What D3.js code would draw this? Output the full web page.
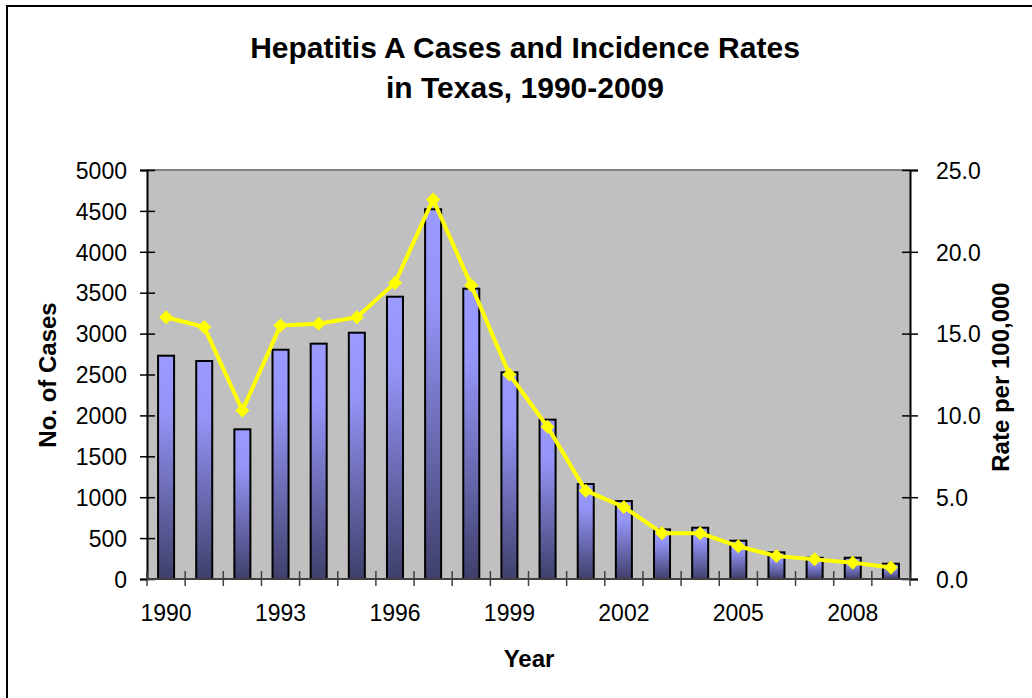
<!DOCTYPE html>
<html><head><meta charset="utf-8">
<script src="https://cdn.jsdelivr.net/npm/d3@7"></script>
<style>body{margin:0;background:#fff}svg{display:block}text{font-family:"Liberation Sans",Arial,sans-serif;fill:#000}</style>
</head><body>
<script>
const years = ["1990","1991","1992","1993","1994","1995","1996","1997","1998","1999","2000","2001","2002","2003","2004","2005","2006","2007","2008","2009"];
const cases = [2730,2665,1830,2803,2877,3011,3451,4520,3549,2527,1948,1161,953,607,627,468,326,260,260,187];
const rates = [16.0,15.4,10.3,15.5,15.6,16.0,18.1,23.2,17.95,12.5,9.3,5.4,4.4,2.8,2.8,2.0,1.4,1.2,1.0,0.7];
const leftTicks = [0,500,1000,1500,2000,2500,3000,3500,4000,4500,5000];
const rightTicks = [0,5,10,15,20,25];
const labelYears = ["1990","1993","1996","1999","2002","2005","2008"];
const titleLines = ["Hepatitis A Cases and Incidence Rates","in Texas, 1990-2009"];

const W=1032,H=698;
const L=147,R=910,T=170,B=579;
const svg=d3.select("body").append("svg").attr("width",W).attr("height",H);
const defs=svg.append("defs");
const g=defs.append("linearGradient").attr("id","barGrad").attr("x1",0).attr("y1",0).attr("x2",0).attr("y2",1);
g.append("stop").attr("offset","0%").attr("stop-color","#9a9aff");
g.append("stop").attr("offset","25%").attr("stop-color","#9595f8");
g.append("stop").attr("offset","100%").attr("stop-color","#3f3f6b");

// outer border
svg.append("rect").attr("x",7).attr("y",6).attr("width",W).attr("height",H).attr("fill","none").attr("stroke","#000").attr("stroke-width",2);

const x=d3.scaleBand().domain(years).range([L,R]);
const yL=d3.scaleLinear().domain([0,5000]).range([B,T]);
const yR=d3.scaleLinear().domain([0,25]).range([B,T]);

svg.append("rect").attr("x",L).attr("y",T).attr("width",R-L).attr("height",B-T).attr("fill","#c0c0c0");
svg.append("line").attr("x1",L).attr("x2",R).attr("y1",T).attr("y2",T).attr("stroke","#808080").attr("stroke-width",2);

// bars
const bw=x.bandwidth()*0.42;
svg.append("g").selectAll("rect").data(years).join("rect")
  .attr("x",d=>x(d)+x.bandwidth()/2-bw/2)
  .attr("y",(d,i)=>yL(cases[i]))
  .attr("width",bw)
  .attr("height",(d,i)=>B-yL(cases[i]))
  .attr("fill","url(#barGrad)").attr("stroke","#000").attr("stroke-width",2);

// left axis
const axL=svg.append("g").attr("transform",`translate(${L},0)`)
  .call(d3.axisLeft(yL).tickValues(leftTicks).tickSize(7).tickPadding(13).tickFormat(d3.format("d")));
axL.select(".domain").attr("stroke","#000").attr("stroke-width",2);
axL.selectAll(".tick line").attr("x2",-7).attr("x1",8).attr("stroke","#000").attr("stroke-width",1.5);
axL.selectAll(".tick text").attr("font-size",23).attr("font-family","Liberation Sans, Arial, sans-serif").attr("dy","0.36em");

// right axis
const axR=svg.append("g").attr("transform",`translate(${R},0)`)
  .call(d3.axisRight(yR).tickValues(rightTicks).tickSize(8).tickPadding(18).tickFormat(d3.format(".1f")));
axR.select(".domain").attr("stroke","#000").attr("stroke-width",2);
axR.selectAll(".tick line").attr("x1",-8).attr("x2",8).attr("stroke","#000").attr("stroke-width",1.5);
axR.selectAll(".tick text").attr("font-size",23).attr("font-family","Liberation Sans, Arial, sans-serif").attr("dy","0.36em");

// x axis
const axX=svg.append("g").attr("transform",`translate(0,${B})`)
  .call(d3.axisBottom(x).tickValues(labelYears).tickSize(0).tickPadding(26));
axX.select(".domain").remove();
axX.selectAll(".tick text").attr("font-size",23).attr("font-family","Liberation Sans, Arial, sans-serif");
svg.append("line").attr("x1",L).attr("x2",R).attr("y1",B).attr("y2",B).attr("stroke","#404040").attr("stroke-width",2);
const bounds=years.map(d=>x(d)).concat([R]);
svg.append("g").selectAll("line").data(bounds).join("line")
  .attr("x1",d=>d).attr("x2",d=>d).attr("y1",B-8).attr("y2",B+7)
  .attr("stroke","#404040").attr("stroke-width",1.5);

// rate line
const line=d3.line().x((d,i)=>x(years[i])+x.bandwidth()/2).y(d=>yR(d));
svg.append("path").datum(rates).attr("d",line).attr("fill","none").attr("stroke","#ffff00").attr("stroke-width",4).attr("stroke-linejoin","round");
const s=7;
svg.append("g").selectAll("path").data(rates).join("path")
  .attr("transform",(d,i)=>`translate(${x(years[i])+x.bandwidth()/2},${yR(d)})`)
  .attr("d",`M0,${-s}L${s},0L0,${s}L${-s},0Z`).attr("fill","#ffff00");

// titles
svg.append("text").attr("x",525).attr("text-anchor","middle").attr("font-weight","bold").attr("font-size",30)
  .selectAll("tspan").data(titleLines).join("tspan").attr("x",525).attr("y",(d,i)=>58+i*40).text(d=>d);
svg.append("text").attr("x",529).attr("y",667).attr("text-anchor","middle").attr("font-weight","bold").attr("font-size",24).text("Year");
svg.append("text").attr("transform","translate(56,375) rotate(-90)").attr("text-anchor","middle").attr("font-weight","bold").attr("font-size",24).text("No. of Cases");
svg.append("text").attr("transform","translate(1009,377) rotate(-90)").attr("text-anchor","middle").attr("font-weight","bold").attr("font-size",24).text("Rate per 100,000");
</script>
</body></html>
